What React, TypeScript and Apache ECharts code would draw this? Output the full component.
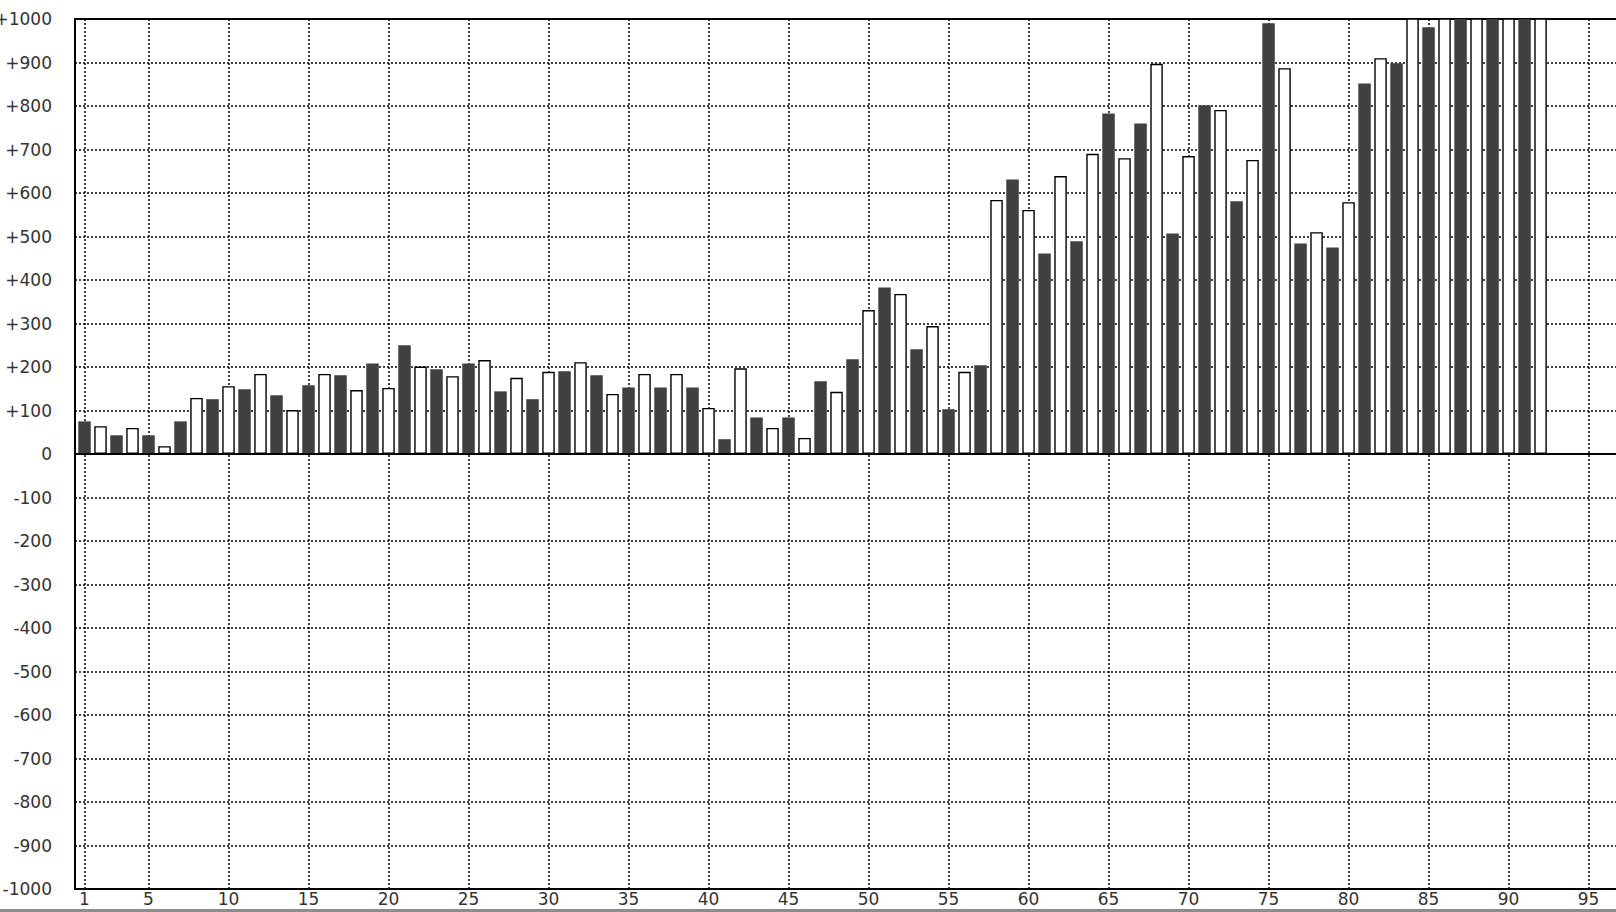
import React, { useEffect, useRef } from "react";
import * as echarts from "echarts";

// Bar values for x = 1..92 (odd = dark bars, even = white bars)
const values: number[] = [
  75, 64, 43, 60, 43, 18, 75, 129, 126, 156,
  149, 184, 135, 101, 158, 184, 181, 147, 208, 152,
  250, 201, 195, 179, 208, 216, 144, 175, 126, 189,
  190, 211, 181, 138, 153, 184, 153, 184, 153, 106,
  34, 197, 84, 60, 84, 37, 167, 143, 218, 331,
  383, 368, 241, 294, 103, 189, 204, 584, 631, 561,
  461, 639, 489, 690, 783, 680, 760, 897, 507, 685,
  802, 791, 581, 676, 990, 887, 484, 510, 475, 579,
  852, 910, 898, 1060, 981, 1100, 1030, 1150, 1090, 1200,
  1120, 1180,
];
const xTicks: number[] = [1, 5, 10, 15, 20, 25, 30, 35, 40, 45, 50, 55, 60, 65, 70, 75, 80, 85, 90, 95];
const yMin = -1000;
const yMax = 1000;
const yStep = 100;

export default function App() {
  const ref = useRef<HTMLDivElement>(null);
  useEffect(() => {
    if (!ref.current) return;
    const chart = echarts.init(ref.current, null, { renderer: "svg" });
    const data = values.map((v, i) => {
      const x = i + 1;
      const dark = x % 2 === 1;
      return {
        value: [x, v],
        itemStyle: dark
          ? { color: "#404040", borderWidth: 0 }
          : { color: "#ffffff", borderColor: "#000000", borderWidth: 1.4 },
      };
    });
    const font = "DejaVu Sans";
    const gridLine = { color: "#000000", type: [2, 2], width: 1.5 };
    chart.setOption({
      animation: false,
      backgroundColor: "#ffffff",
      grid: {
        left: 75,
        top: 19,
        right: -2,
        bottom: 23,
        containLabel: false,
        outerBoundsMode: "none",
        show: true,
        borderColor: "#000000",
        borderWidth: 2,
        backgroundColor: "transparent",
      },
      xAxis: {
        type: "value",
        min: 0.40625,
        max: 96.84,
        axisLine: { show: false },
        axisTick: { show: false, customValues: xTicks },
        axisLabel: {
          customValues: xTicks,
          fontFamily: font,
          fontSize: 17,
          color: "#333333",
          margin: 1,
        },
        splitLine: { show: true, lineStyle: gridLine },
      },
      yAxis: {
        type: "value",
        min: yMin,
        max: yMax,
        interval: yStep,
        axisLine: { show: false },
        axisTick: { show: false },
        axisLabel: {
          fontFamily: font,
          fontSize: 17,
          color: "#333333",
          margin: 23,
          showMinLabel: true,
          showMaxLabel: true,
          formatter: (v: number) => (v > 0 ? "+" + v : String(v)),
        },
        splitLine: { show: true, lineStyle: gridLine },
      },
      series: [
        {
          type: "bar",
          data,
          barWidth: 12.5,
          clip: true,
          markLine: {
            silent: true,
            symbol: "none",
            label: { show: false },
            lineStyle: { color: "#000000", type: "solid", width: 2 },
            data: [{ yAxis: 0 }],
          },
        },
      ],
      graphic: [
        {
          type: "rect",
          left: 0,
          top: 909,
          shape: { width: 1616, height: 3 },
          style: { fill: "#8c8c8c" },
          silent: true,
        },
      ],
    });
    return () => chart.dispose();
  }, []);
  return (
    <div
      ref={ref}
      style={{ position: "absolute", left: 0, top: 0, width: 1616, height: 912 }}
    />
  );
}
